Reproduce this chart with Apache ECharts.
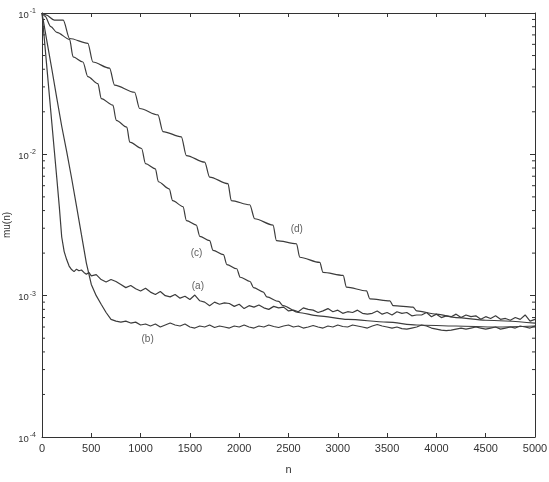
<!DOCTYPE html>
<html>
<head>
<meta charset="utf-8">
<script src="https://cdn.jsdelivr.net/npm/echarts@6/dist/echarts.min.js"></script>
<style>
  html, body { margin: 0; padding: 0; background: #fff; }
  #chart { width: 549px; height: 482px; }
</style>
</head>
<body>
<div id="chart"></div>
<script>
// curva (a): caida rapida y cola ruidosa
const curveA = [
  [0,1e-1],[25,6.4e-2],[50,4.07e-2],[75,2.6e-2],[100,1.66e-2],[125,1.06e-2],[150,6.8e-3],[175,4.3e-3],
  [200,2.6e-3],[225,2.05e-3],[250,1.8e-3],[275,1.62e-3],[300,1.53e-3],[325,1.48e-3],[350,1.54e-3],
  [375,1.5e-3],[400,1.52e-3],[425,1.46e-3],[450,1.42e-3],[475,1.46e-3],[500,1.38e-3],[550,1.41e-3],
  [600,1.3e-3],[650,1.25e-3],[700,1.3e-3],[750,1.26e-3],[800,1.2e-3],[850,1.14e-3],[900,1.18e-3],
  [950,1.12e-3],[1000,1.08e-3],[1050,1.13e-3],[1100,1.06e-3],[1150,1.02e-3],[1200,1.07e-3],[1250,1.0e-3],
  [1300,9.8e-4],[1350,1.02e-3],[1400,9.6e-4],[1450,9.9e-4],[1500,9.4e-4],[1550,1.01e-3],[1600,9.2e-4],
  [1650,9.0e-4],[1700,8.5e-4],[1750,9.0e-4],[1800,8.7e-4],[1850,8.9e-4],[1900,8.8e-4],[1950,8.4e-4],
  [2000,8.7e-4],[2050,8.1e-4],[2100,8.5e-4],[2150,8.3e-4],[2200,8.6e-4],[2250,8.2e-4],[2300,8.0e-4],
  [2350,8.4e-4],[2400,8.2e-4],[2450,8.3e-4],[2500,7.8e-4],[2550,7.9e-4],[2600,7.7e-4],[2650,8.2e-4],
  [2700,8.0e-4],[2750,7.9e-4],[2800,7.6e-4],[2850,7.8e-4],[2900,8.1e-4],[2950,7.7e-4],[3000,7.9e-4],
  [3050,7.5e-4],[3100,7.7e-4],[3150,7.6e-4],[3200,7.9e-4],[3250,7.5e-4],[3300,7.4e-4],[3350,7.5e-4],
  [3400,7.8e-4],[3450,7.4e-4],[3500,7.6e-4],[3550,7.3e-4],[3600,7.7e-4],[3650,7.5e-4],[3700,7.6e-4],
  [3750,7.2e-4],[3800,7.3e-4],[3850,7.3e-4],[3900,7.6e-4],[3950,7.1e-4],[4000,7.4e-4],[4050,7.0e-4],
  [4100,7.2e-4],[4150,7.1e-4],[4200,7.4e-4],[4250,7.0e-4],[4300,7.3e-4],[4350,7.1e-4],[4400,7.2e-4],
  [4450,6.8e-4],[4500,7.1e-4],[4550,6.9e-4],[4600,7.2e-4],[4650,6.8e-4],[4700,6.9e-4],[4750,6.7e-4],
  [4800,7.0e-4],[4850,6.8e-4],[4900,7.3e-4],[4950,6.6e-4],[5000,6.8e-4]
];

// curva (b)
const curveB = [
  [0,1e-1],[50,6.3e-2],[100,4.0e-2],[150,2.5e-2],[200,1.58e-2],[250,1.05e-2],[300,6.8e-3],[350,4.3e-3],
  [400,2.7e-3],[450,1.7e-3],[500,1.2e-3],[550,1.0e-3],[600,8.7e-4],[650,7.6e-4],[700,6.8e-4],[750,6.6e-4],
  [800,6.5e-4],[850,6.6e-4],[900,6.4e-4],[950,6.5e-4],[1000,6.2e-4],[1050,6.3e-4],[1100,6.1e-4],
  [1150,6.3e-4],[1200,6.0e-4],[1250,6.2e-4],[1300,6.4e-4],[1350,6.2e-4],[1400,6.1e-4],[1450,6.3e-4],
  [1500,6.0e-4],[1550,5.9e-4],[1600,6.1e-4],[1650,6.0e-4],[1700,6.2e-4],[1750,5.95e-4],[1800,6.1e-4],
  [1850,6.0e-4],[1900,5.9e-4],[1950,6.1e-4],[2000,6.0e-4],[2050,6.2e-4],[2100,6.0e-4],[2150,5.9e-4],
  [2200,6.1e-4],[2250,6.0e-4],[2300,6.2e-4],[2350,6.05e-4],[2400,5.95e-4],[2450,6.1e-4],[2500,6.2e-4],
  [2550,6.0e-4],[2600,6.1e-4],[2650,5.9e-4],[2700,6.0e-4],[2750,6.15e-4],[2800,6.0e-4],[2850,5.9e-4],
  [2900,6.1e-4],[2950,6.0e-4],[3000,6.2e-4],[3050,6.05e-4],[3100,6.0e-4],[3150,6.2e-4],[3200,6.1e-4],
  [3250,6.0e-4],[3300,5.9e-4],[3350,6.1e-4],[3400,6.25e-4],[3450,6.1e-4],[3500,6.0e-4],[3550,5.9e-4],
  [3600,6.0e-4],[3650,5.85e-4],[3700,5.8e-4],[3750,5.9e-4],[3800,6.0e-4],[3850,6.2e-4],[3900,6.1e-4],
  [3950,5.9e-4],[4000,5.8e-4],[4050,5.7e-4],[4100,5.65e-4],[4150,5.7e-4],[4200,5.8e-4],[4250,5.9e-4],
  [4300,5.8e-4],[4350,5.9e-4],[4400,6.0e-4],[4450,5.9e-4],[4500,5.8e-4],[4550,5.9e-4],[4600,6.0e-4],
  [4650,5.8e-4],[4700,5.9e-4],[4750,6.0e-4],[4800,5.9e-4],[4850,6.1e-4],[4900,6.0e-4],[4950,5.9e-4],
  [5000,6.1e-4]
];

// curva (c): escalones cortos
const curveC = [
  [0,1e-1],[30,9.5e-2],[90,8.0e-2],[150,7.3e-2],[280,6.5e-2],[315,4.9e-2],[415,4.5e-2],[465,3.55e-2],
  [567,3.16e-2],[601,2.48e-2],[719,2.23e-2],[753,1.74e-2],[860,1.56e-2],[890,1.22e-2],[1010,1.1e-2],
  [1050,8.6e-3],[1150,7.9e-3],[1180,6.4e-3],[1290,5.7e-3],[1325,4.7e-3],[1430,4.27e-3],[1465,3.4e-3],
  [1565,3.16e-3],[1600,2.63e-3],[1700,2.45e-3],[1735,2.09e-3],[1840,1.95e-3],[1875,1.66e-3],
  [1975,1.55e-3],[2010,1.35e-3],[2110,1.26e-3],[2145,1.14e-3],[2245,1.06e-3],[2280,9.8e-4],
  [2400,9.1e-4],[2445,8.5e-4],[2600,7.6e-4],[2800,7.2e-4],[3100,6.8e-4],[3500,6.5e-4],[3800,6.2e-4],
  [4200,6.1e-4],[4600,6.0e-4],[5000,6.1e-4]
];

// curva (d): escalones largos
const curveD = [
  [0,1e-1],[40,9.7e-2],[125,8.9e-2],[215,8.9e-2],[280,6.6e-2],[465,6.1e-2],[516,4.5e-2],[685,4.07e-2],
  [736,3.09e-2],[939,2.75e-2],[990,2.11e-2],[1176,1.9e-2],[1226,1.45e-2],[1413,1.33e-2],[1464,9.8e-3],
  [1650,8.8e-3],[1700,6.9e-3],[1886,6.2e-3],[1920,4.7e-3],[2107,4.4e-3],[2157,3.5e-3],[2343,3.16e-3],
  [2378,2.45e-3],[2581,2.33e-3],[2614,1.87e-3],[2817,1.72e-3],[2850,1.46e-3],[3054,1.39e-3],
  [3088,1.15e-3],[3291,1.08e-3],[3325,9.5e-4],[3528,9.2e-4],[3561,8.5e-4],[3763,8.3e-4],[3800,7.8e-4],
  [4002,7.4e-4],[4200,7.0e-4],[4500,6.7e-4],[5000,6.4e-4]
];

const curveNames = ["(a)", "(b)", "(c)", "(d)"];
const labelPos = [[1581, 1.16e-3], [1071, 4.95e-4], [1568, 1.99e-3], [2584, 2.94e-3]];

// marcas menores del eje log (2..9 por decada)
const yMinor = [
  2e-4,3e-4,4e-4,5e-4,6e-4,7e-4,8e-4,9e-4,
  2e-3,3e-3,4e-3,5e-3,6e-3,7e-3,8e-3,9e-3,
  2e-2,3e-2,4e-2,5e-2,6e-2,7e-2,8e-2,9e-2
];

const ink = "#333";
const lineColor = "#3c3c3c";

const myChart = echarts.init(document.getElementById("chart"));

const baseX = {
  type: "value", min: 0, max: 5000, interval: 500,
  axisLine: { show: true, onZero: false, lineStyle: { color: ink, width: 1 } },
  axisTick: { show: true, inside: true, length: 4, lineStyle: { color: ink } },
  splitLine: { show: false }
};
const baseY = {
  type: "log", logBase: 10, min: 1e-4, max: 1e-1,
  axisLine: { show: true, onZero: false, lineStyle: { color: ink, width: 1 } },
  axisTick: { show: true, inside: true, length: 5, lineStyle: { color: ink } },
  splitLine: { show: false }
};

const lineSeries = [curveA, curveB, curveC, curveD].map((d, i) => ({
  type: "line",
  name: curveNames[i],
  data: d,
  showSymbol: false,
  symbol: "none",
  silent: true,
  smooth: i >= 2 ? 0.3 : false,
  smoothMonotone: "x",
  lineStyle: { color: lineColor, width: 1.2 }
}));

myChart.setOption({
  animation: false,
  backgroundColor: "#fff",
  grid: { left: 42, right: 14, top: 13, bottom: 45, outerBoundsMode: "none", containLabel: false },
  xAxis: [
    Object.assign({}, baseX, {
      position: "bottom",
      name: "n", nameLocation: "middle", nameGap: 27, nameMoveOverlap: false,
      nameTextStyle: { color: ink, fontSize: 11, fontFamily: "Liberation Sans" },
      axisLabel: { color: ink, fontSize: 11, margin: 6, fontFamily: "Liberation Sans", formatter: v => String(v) }
    }),
    Object.assign({}, baseX, { position: "top", axisLabel: { show: false } })
  ],
  yAxis: [
    Object.assign({}, baseY, {
      position: "left",
      name: "mu(n)", nameLocation: "middle", nameGap: 30, nameMoveOverlap: false,
      nameTextStyle: { color: ink, fontSize: 10, fontFamily: "Liberation Sans" },
      axisLabel: {
        margin: 6,
        formatter: v => "{b|10}{s|" + Math.round(Math.log10(v)) + "}",
        rich: {
          b: { fontSize: 9.5, color: ink, fontFamily: "Liberation Sans", padding: [4, 0, 0, 0] },
          s: { fontSize: 7, color: ink, fontFamily: "Liberation Sans", padding: [0, 0, 4, 1] }
        }
      }
    }),
    Object.assign({}, baseY, { position: "right", axisLabel: { show: false } })
  ],
  series: [
    ...lineSeries,
    {
      type: "custom",
      silent: true,
      data: yMinor.map(v => [0, v]),
      renderItem: (params, api) => {
        const v = api.value(1);
        const l = api.coord([0, v]);
        const r = api.coord([5000, v]);
        return {
          type: "group",
          children: [
            { type: "line", shape: { x1: l[0], y1: l[1], x2: l[0] + 3, y2: l[1] }, style: { stroke: ink, lineWidth: 1 } },
            { type: "line", shape: { x1: r[0] - 3, y1: r[1], x2: r[0], y2: r[1] }, style: { stroke: ink, lineWidth: 1 } }
          ]
        };
      }
    },
    {
      type: "scatter",
      silent: true,
      symbolSize: 0,
      data: labelPos,
      label: {
        show: true,
        position: "inside",
        formatter: p => curveNames[p.dataIndex],
        color: ink,
        fontSize: 10,
        fontFamily: "Liberation Sans"
      }
    }
  ]
});

window.addEventListener("resize", () => myChart.resize());
</script>
</body>
</html>
